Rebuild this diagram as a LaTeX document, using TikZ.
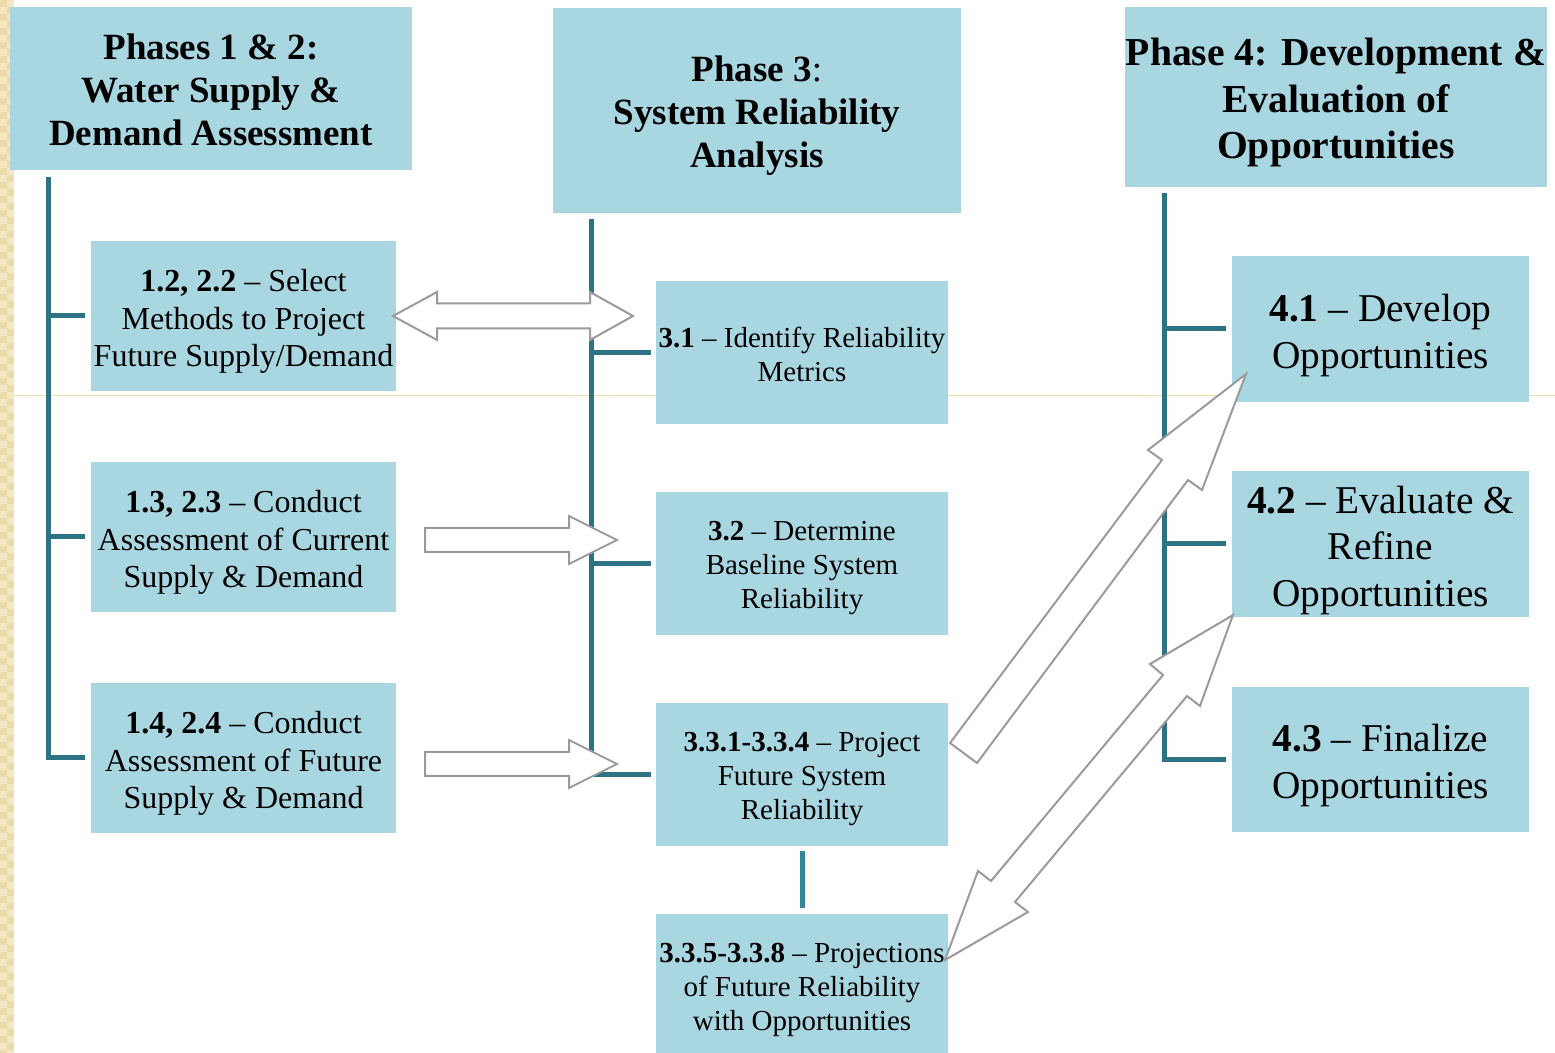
\documentclass[tikz,border=0pt]{standalone}
\usepackage{fontspec}
\setmainfont{Liberation Serif}
\usetikzlibrary{calc}
\definecolor{boxblue}{RGB}{169,215,225}
\definecolor{tealline}{RGB}{46,114,133}
\definecolor{teallight}{RGB}{54,134,154}
\definecolor{arrowgrey}{RGB}{155,155,155}
\definecolor{beigebase}{RGB}{244,232,196}
\definecolor{beigedark}{RGB}{235,218,170}
\definecolor{beigeline}{RGB}{238,222,168}
\begin{document}
\begin{tikzpicture}[x=0.5pt,y=-0.5pt,
  box/.style={rectangle, fill=boxblue, inner sep=0pt},
  txt/.style={inner sep=0pt, align=center, text=black},
  hdr/.style={txt, font={\fontsize{18.5}{21.5}\selectfont\bfseries}},
  hdrn/.style={txt, font={\fontsize{18.5}{21.5}\selectfont}},
  hdrb/.style={txt, font={\fontsize{19.8}{23.3}\selectfont\bfseries}},
  sub/.style={txt, font={\fontsize{16}{18.6}\selectfont}},
  mid/.style={txt, font={\fontsize{14.5}{17}\selectfont}},
  opp/.style={txt, font={\fontsize{19.7}{23.4}\selectfont}},
  tree/.style={draw=tealline, line width=2.5pt, line join=miter},
  blockarrow/.style={draw=arrowgrey, fill=white, line width=1pt, line join=miter}]
\useasboundingbox (0,0) rectangle (1555,1053);
\fill[white] (0,0) rectangle (1555,1053);
% decorative left strip
\fill[beigebase] (0,0) rectangle (14,1053);
\foreach \i in {0,...,150}{
  \pgfmathtruncatemacro\cko{mod(\i,2)*7}
  \fill[beigedark] (\cko,\i*7) rectangle ++(7,7);
}
\draw[beigeline, line width=0.5pt] (14,396) -- (1555,396);

% header boxes
\node[box, minimum width=201pt, minimum height=81.5pt] (H1) at (211,88.5) {};
\node[hdr] (H1t) at ($(H1.center)+(0,1)$) {Phases 1 \& 2:\\Water Supply \&\\Demand Assessment};
\node[box, minimum width=204pt, minimum height=102.5pt] (H3) at (757,110.5) {};
\node[hdrn] (H3t) at ($(H3.center)+(0,5)$) {\textbf{Phase 3}:\\\textbf{System Reliability}\\\textbf{Analysis}};
\node[box, minimum width=211pt, minimum height=90pt] (H4) at (1336,97) {};
\node[hdrb] (H4t) at ($(H4.center)+(0,5.5)$) {Phase 4: Development \&\\Evaluation of\\Opportunities};

% phase 1-2 boxes
\node[box, minimum width=152.5pt, minimum height=75pt] (B12) at (243.5,316) {};
\node[sub] (B12t) at ($(B12.center)+(0,5.5)$) {\textbf{1.2, 2.2} -- Select\\Methods to Project\\Future Supply/Demand};
\node[box, minimum width=152.5pt, minimum height=75pt] (B13) at (243.5,537) {};
\node[sub] (B13t) at ($(B13.center)+(0,5.5)$) {\textbf{1.3, 2.3} -- Conduct\\Assessment of Current\\Supply \& Demand};
\node[box, minimum width=152.5pt, minimum height=75pt] (B14) at (243.5,758) {};
\node[sub] (B14t) at ($(B14.center)+(0,5.5)$) {\textbf{1.4, 2.4} -- Conduct\\Assessment of Future\\Supply \& Demand};

% phase 3 boxes
\node[box, minimum width=146pt, minimum height=71.5pt] (B31) at (802,352.5) {};
\node[mid] (B31t) at ($(B31.center)+(0,1.5)$) {\textbf{3.1} -- Identify Reliability\\Metrics};
\node[box, minimum width=146pt, minimum height=71.5pt] (B32) at (802,563.5) {};
\node[mid] (B32t) at ($(B32.center)+(0,5)$) {\textbf{3.2} -- Determine\\Baseline System\\Reliability};
\node[box, minimum width=146pt, minimum height=71.5pt] (B33) at (802,774.5) {};
\node[mid] (B33t) at ($(B33.center)+(0,5)$) {\textbf{3.3.1-3.3.4} -- Project\\Future System\\Reliability};
\node[box, minimum width=146pt, minimum height=69.5pt] (B335) at (802,983.5) {};
\node[mid] (B335t) at ($(B335.center)+(0,6)$) {\textbf{3.3.5-3.3.8} -- Projections\\of Future Reliability\\with Opportunities};

% phase 4 boxes
\node[box, minimum width=148.5pt, minimum height=73pt] (B41) at (1380.5,329) {};
\node[opp] (B41t) at ($(B41.center)+(0,6.5)$) {\textbf{4.1} -- Develop\\Opportunities};
\node[box, minimum width=148.5pt, minimum height=73pt] (B42) at (1380.5,544) {};
\node[opp] (B42t) at ($(B42.center)+(0,6.5)$) {\textbf{4.2} -- Evaluate \&\\Refine\\Opportunities};
\node[box, minimum width=148.5pt, minimum height=72.5pt] (B43) at (1380.5,759.5) {};
\node[opp] (B43t) at ($(B43.center)+(0,6)$) {\textbf{4.3} -- Finalize\\Opportunities};

% tree lines
\coordinate (L0) at ($(H1.south west)+(39,7)$);
\draw[tree] (L0) |- ($(B14.west)+(-6,0)$);
\draw[tree] (L0 |- B12.west) -- ($(B12.west)+(-6,0)$);
\draw[tree] (L0 |- B13.west) -- ($(B13.west)+(-6,0)$);

\coordinate (M0) at ($(H3.south west)+(39,6)$);
\draw[tree] (M0) |- ($(B33.west)+(-5,0)$);
\draw[tree] (M0 |- B31.west) -- ($(B31.west)+(-5,0)$);
\draw[tree] (M0 |- B32.west) -- ($(B32.west)+(-5,0)$);

\coordinate (R0) at ($(H4.south west)+(40,6)$);
\draw[tree] (R0) |- ($(B43.west)+(-6,0)$);
\draw[tree] (R0 |- B41.west) -- ($(B41.west)+(-6,0)$);
\draw[tree] (R0 |- B42.west) -- ($(B42.west)+(-6,0)$);

\draw[teallight, line width=2.5pt] ($(B33.south)+(0,5)$) -- ($(B335.north)+(0,-6)$);

% block arrows
\draw[blockarrow] (393,316) -- (437,292) -- (437,303.5) -- (590,303.5) -- (590,292)
  -- (633,316) -- (590,340) -- (590,328.5) -- (437,328.5) -- (437,340) -- cycle;
\draw[blockarrow] (425,528) -- (569,528) -- (569,516) -- (617,540) -- (569,564)
  -- (569,552) -- (425,552) -- cycle;
\draw[blockarrow] (425,752) -- (569,752) -- (569,740) -- (617,764) -- (569,788)
  -- (569,776) -- (425,776) -- cycle;
\draw[blockarrow] (1246,374) -- (1202,490) -- (1188,480) -- (977,763) -- (950,743)
  -- (1162,460) -- (1148,450) -- cycle;
\draw[blockarrow] (1233,615) -- (1200,706) -- (1187,696) -- (1015,902) -- (1028,912)
  -- (945,960) -- (978,871) -- (991,881) -- (1163,675) -- (1150,664) -- cycle;
\end{tikzpicture}
\end{document}
